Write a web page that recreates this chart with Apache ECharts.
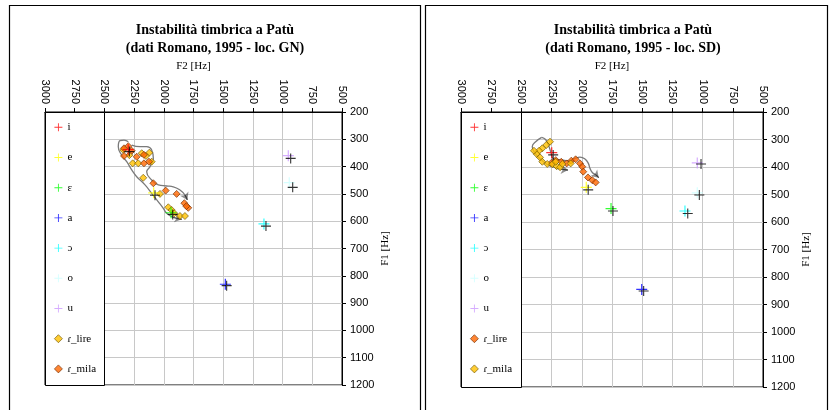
<!DOCTYPE html>
<html>
<head>
<meta charset="utf-8">
<script src="https://cdn.jsdelivr.net/npm/echarts@6/dist/echarts.min.js"></script>
<style>
  html, body { margin: 0; padding: 0; background: #fff; }
  #chart { width: 829px; height: 410px; }
</style>
</head>
<body>
<div id="chart"></div>
<script>
// ---- Data -------------------------------------------------------------
// Axis ranges (Hz)
const f2Range = [500, 3000];
const f2Step = 250;
const f1Range = [200, 1200];
const f1Step = 100;

// Vowel categories (legend order)
const vowelNames = ['i', 'e', 'ɛ', 'a', 'ɔ', 'o', 'u'];

// Speaker GN: vowel targets (coloured crosses) and reference crosses (black)
const gnVowelF2 = [2300, 2085, 1939, 1482, 1157, 944, 952];
const gnVowelF1 = [338, 496, 569, 831, 610, 459, 360];
const gnRefF2 = [2290, 2074, 1925, 1471, 1140, 915, 932];
const gnRefF1 = [345, 505, 575, 836, 618, 476, 370];

// Speaker GN: rhotic tokens
const gnLireF2 = [2341, 2290, 2262, 2215, 2186, 2122, 2150, 2102, 2173, 2032, 1962, 1934, 1912, 1864, 1822];
const gnLireF1 = [339, 358, 388, 388, 351, 349, 361, 382, 441, 500, 549, 559, 571, 581, 581];
const gnMilaF2 = [2335, 2299, 2270, 2335, 2228, 2167, 2125, 2167, 2088, 1984, 1892, 1827, 1794, 1810];
const gnMilaF1 = [333, 325, 342, 361, 364, 357, 382, 388, 461, 488, 500, 534, 551, 545];

// Speaker GN: drift paths
const gnPathAF2 = [2270, 2200, 2144, 2102, 2088, 2116, 2144, 2102, 2046, 1976, 1920, 1864, 1822, 1802];
const gnPathAF1 = [321, 327, 327, 339, 370, 400, 419, 449, 467, 471, 474, 486, 504, 522];
const gnPathBF2 = [2299, 2335, 2369, 2383, 2354, 2312, 2270, 2228, 2158, 2102, 2046, 2004, 1976, 1920, 1849];
const gnPathBF1 = [309, 303, 305, 327, 358, 382, 412, 437, 467, 498, 529, 553, 571, 586, 593];

// Speaker SD: vowel targets and reference crosses
const sdVowelF2 = [2249, 1963, 1758, 1504, 1146, 1044, 1044];
const sdVowelF1 = [348, 474, 551, 845, 560, 494, 385];
const sdRefF2 = [2237, 1947, 1742, 1488, 1123, 1027, 1013];
const sdRefF1 = [356, 483, 560, 851, 569, 502, 389];

// Speaker SD: rhotic tokens
const sdLireF2 = [2252, 2216, 2170, 2125, 2087, 2051, 2015, 1996, 1988, 1949, 1913, 1885];
const sdLireF1 = [385, 375, 381, 387, 377, 372, 387, 399, 417, 438, 448, 456];
const sdMilaF2 = [2263, 2294, 2327, 2354, 2373, 2346, 2327, 2286, 2244, 2208, 2180, 2161, 2092, 2216, 2396];
const sdMilaF1 = [308, 320, 332, 341, 353, 365, 381, 389, 390, 397, 401, 389, 387, 381, 341];

// Speaker SD: drift paths
const sdPathAF2 = [2332, 2300, 2275, 2255, 2236, 2153, 2098, 2056, 2015, 1974, 1946, 1932, 1913, 1882, 1860];
const sdPathAF1 = [292, 300, 322, 348, 369, 375, 378, 369, 364, 371, 387, 405, 420, 429, 439];
const sdPathBF2 = [2332, 2382, 2410, 2390, 2346, 2299, 2244, 2175, 2114];
const sdPathBF1 = [292, 308, 326, 348, 369, 387, 399, 408, 411];

// ---- Styling -----------------------------------------------------------
const vowelColors = ['#FF0000', '#FFFF00', '#00FF00', '#0000FF', '#00FFFF', '#CCFFFF', '#CC99FF'];
const GOLD = { color: '#FFC000', borderColor: '#6b5200', borderWidth: 0.8 };
const ORANGE = { color: '#FF6600', borderColor: '#6b2a00', borderWidth: 0.8 };
const PLUS = 'path://M0,4.45H10V5.55H0Z M4.45,0H5.55V10H4.45Z';
const SERIF = '"Liberation Serif", "Times New Roman", serif';
const SANS = '"Liberation Sans", Arial, sans-serif';

const zip = (xs, ys) => xs.map((x, i) => [x, ys[i]]);
const plainNumber = v => String(v);

const panels = [
  {
    subtitle: '(dati Romano, 1995 - loc. GN)',
    grid: { left: 45, top: 112, width: 297, height: 273 },
    titleX: 215,
    frame: { x: 9.5, y: 5.5, width: 411, height: 420 },
    vowelF2: gnVowelF2, vowelF1: gnVowelF1,
    refF2: gnRefF2, refF1: gnRefF1,
    rhotics: [
      { name: 'ɾ_lire', f2: gnLireF2, f1: gnLireF1, style: GOLD },
      { name: 'ɾ_mila', f2: gnMilaF2, f1: gnMilaF1, style: ORANGE }
    ],
    paths: [zip(gnPathAF2, gnPathAF1), zip(gnPathBF2, gnPathBF1)]
  },
  {
    subtitle: '(dati Romano, 1995 - loc. SD)',
    grid: { left: 461, top: 112, width: 302, height: 275 },
    titleX: 633,
    frame: { x: 425.5, y: 5.5, width: 402, height: 420 },
    vowelF2: sdVowelF2, vowelF1: sdVowelF1,
    refF2: sdRefF2, refF1: sdRefF1,
    rhotics: [
      { name: 'ɾ_lire', f2: sdLireF2, f1: sdLireF1, style: ORANGE },
      { name: 'ɾ_mila', f2: sdMilaF2, f1: sdMilaF1, style: GOLD }
    ],
    paths: [zip(sdPathAF2, sdPathAF1), zip(sdPathBF2, sdPathBF1)]
  }
];

const grids = [], xAxes = [], yAxes = [], series = [], legends = [], graphics = [];

panels.forEach((p, k) => {
  grids.push(Object.assign({ show: true, borderColor: '#000', borderWidth: 1, backgroundColor: '#fff' }, p.grid));

  xAxes.push({
    gridIndex: k, type: 'value', position: 'top', inverse: true,
    min: f2Range[0], max: f2Range[1], interval: f2Step,
    name: 'F2 [Hz]', nameLocation: 'middle', nameGap: 38,
    nameTextStyle: { fontFamily: SERIF, fontSize: 11, color: '#000' },
    axisLine: { lineStyle: { color: '#000', width: 1 } },
    axisTick: { show: true, length: 4, lineStyle: { color: '#000' } },
    axisLabel: { rotate: 90, margin: 8, fontFamily: SANS, fontSize: 11, color: '#000', formatter: plainNumber },
    splitLine: { show: true, lineStyle: { color: '#c8c8c8', width: 1 } }
  });

  yAxes.push({
    gridIndex: k, type: 'value', position: 'right', inverse: true,
    min: f1Range[0], max: f1Range[1], interval: f1Step,
    name: 'F1 [Hz]', nameLocation: 'middle', nameGap: 38, nameRotate: 90,
    nameTextStyle: { fontFamily: SERIF, fontSize: 11, color: '#000' },
    axisLine: { lineStyle: { color: '#000', width: 1 } },
    axisTick: { show: true, length: 4, lineStyle: { color: '#000' } },
    axisLabel: { margin: 8, fontFamily: SANS, fontSize: 11, color: '#000', formatter: plainNumber },
    splitLine: { show: true, lineStyle: { color: '#c8c8c8', width: 1 } }
  });

  // drift paths (grey) with dark arrowheads
  p.paths.forEach(path => {
    series.push({
      type: 'line', xAxisIndex: k, yAxisIndex: k, data: path,
      smooth: 0.5, showSymbol: false, symbol: 'none', silent: true,
      lineStyle: { color: '#7a7a7a', width: 1.3 }, z: 2
    });
    series.push({
      type: 'lines', coordinateSystem: 'cartesian2d', xAxisIndex: k, yAxisIndex: k,
      data: [{ coords: [path[path.length - 2], path[path.length - 1]] }],
      symbol: ['none', 'arrow'], symbolSize: 7, silent: true,
      lineStyle: { color: '#222', width: 1 }, z: 3
    });
  });

  // rhotic tokens
  p.rhotics.forEach(r => {
    series.push({
      type: 'scatter', name: r.name, xAxisIndex: k, yAxisIndex: k,
      data: zip(r.f2, r.f1), symbol: 'diamond', symbolSize: 7,
      itemStyle: r.style, silent: true, z: 4
    });
  });

  // vowel targets
  vowelNames.forEach((v, i) => {
    series.push({
      type: 'scatter', name: v, xAxisIndex: k, yAxisIndex: k,
      data: [[p.vowelF2[i], p.vowelF1[i]]], symbol: PLUS, symbolSize: 11,
      itemStyle: { color: vowelColors[i] }, silent: true, z: 5
    });
  });

  // reference crosses
  series.push({
    type: 'scatter', name: 'riferimento', xAxisIndex: k, yAxisIndex: k,
    data: zip(p.refF2, p.refF1), symbol: PLUS, symbolSize: 10,
    itemStyle: { color: '#000' }, silent: true, z: 6
  });

  // legend inside the plot area, to the left of 2500 Hz
  const legendData = vowelNames.map((v, i) => ({ name: v, icon: PLUS, itemStyle: { color: vowelColors[i] } }))
    .concat(p.rhotics.map(r => ({ name: r.name, icon: 'diamond', itemStyle: r.style })));
  legends.push({
    orient: 'vertical', left: p.grid.left + 9, top: 120.3, padding: 0,
    itemWidth: 8, itemHeight: 8, itemGap: 16.2, selectedMode: false,
    textStyle: { fontFamily: SERIF, fontSize: 11, lineHeight: 14, color: '#000' },
    data: legendData, z: 10
  });

  const x2500 = p.grid.left + p.grid.width * (3000 - 2500) / 2500;
  graphics.push({
    type: 'rect', z: 8, silent: true,
    shape: { x: p.grid.left + 0.5, y: p.grid.top + 0.5, width: Math.round(x2500 - p.grid.left), height: p.grid.height },
    style: { fill: '#fff', stroke: '#000', lineWidth: 1 }
  });
  graphics.push({
    type: 'rect', z: 0, silent: true, shape: p.frame,
    style: { fill: 'none', stroke: '#000', lineWidth: 1.2 }
  });
  graphics.push({
    type: 'text', x: p.titleX, y: 30, z: 10, silent: true,
    style: { text: 'Instabilità timbrica a Patù', font: 'bold 14px ' + SERIF, fill: '#000', align: 'center', verticalAlign: 'middle' }
  });
  graphics.push({
    type: 'text', x: p.titleX, y: 48, z: 10, silent: true,
    style: { text: p.subtitle, font: 'bold 14px ' + SERIF, fill: '#000', align: 'center', verticalAlign: 'middle' }
  });
});

const chart = echarts.init(document.getElementById('chart'), null, { renderer: 'canvas' });
chart.setOption({
  animation: false,
  backgroundColor: '#fff',
  grid: grids,
  xAxis: xAxes,
  yAxis: yAxes,
  legend: legends,
  graphic: { elements: graphics },
  series: series
});
</script>
</body>
</html>
